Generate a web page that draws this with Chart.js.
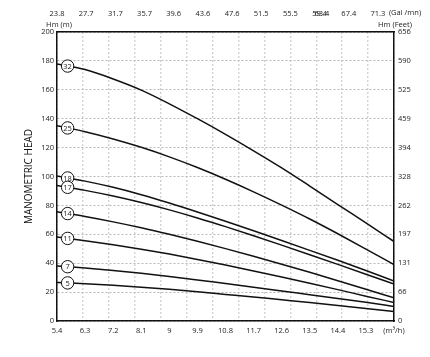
<!DOCTYPE html>
<html><head><meta charset="utf-8">
<script src="https://cdn.jsdelivr.net/npm/chart.js@4.4.1/dist/chart.umd.min.js"></script>
<style>html,body{margin:0;padding:0;background:#fff;}#wrap{width:430px;height:357px;}</style>
</head><body><div id="wrap"><canvas id="c" width="430" height="357"></canvas></div>
<script>
// ---- data ----
const flowM3h = [5.4, 6.3, 7.2, 8.1, 9.0, 9.9, 10.8, 11.7, 12.6, 13.5, 14.4, 15.3, 16.2];
const flowLabels = ["5.4","6.3","7.2","8.1","9","9.9","10.8","11.7","12.6","13.5","14.4","15.3","(m³/h)"];
const galLabels = ["23.8","27.7","31.7","35.7","39.6","43.6","47.6","51.5","55.5","59.4","63.4","67.4","71.3"];
const feetLabels = ["0","66","131","197","262","328","394","459","525","590","656"];
const stages = ["32","25","18","17","14","11","7","5"];
const head32 = [177.9,174.0,167.5,159.8,150.3,140.0,129.2,117.8,106.0,93.4,80.6,67.9,55.0];
const head25 = [135.2,131.0,126.0,120.2,113.6,106.2,98.1,89.4,80.2,70.6,60.4,49.8,39.0];
const head18 = [100.3,96.8,92.5,87.4,81.6,75.4,69.0,62.4,55.7,48.9,42.0,34.9,27.7];
const head17 = [93.8,90.4,86.5,82.0,76.9,71.3,65.3,59.0,52.5,45.9,39.2,32.4,25.5];
const head14 = [75.6,72.3,68.6,64.5,60.0,55.2,50.1,44.8,39.3,33.7,27.9,22.0,16.0];
const head11 = [58.1,55.6,52.8,49.7,46.3,42.6,38.7,34.6,30.4,26.1,21.7,17.2,12.8];
const head7  = [38.1,36.7,35.0,33.0,30.8,28.4,25.9,23.4,20.8,18.2,15.6,12.9,10.1];
const head5  = [26.7,25.8,24.7,23.4,21.9,20.2,18.4,16.6,14.7,12.8,10.8,8.7,6.5];
const series = [head32, head25, head18, head17, head14, head11, head7, head5];
const markerFlow = 5.74;

// ---- build ----
const FONT = '"Open Sans", "DejaVu Sans", sans-serif';
const TXT = '#222';
function interp(s, x) {
  for (let i = 0; i < flowM3h.length - 1; i++) {
    if (x >= flowM3h[i] && x <= flowM3h[i+1]) {
      return s[i] + (s[i+1]-s[i]) * (x - flowM3h[i]) / (flowM3h[i+1]-flowM3h[i]);
    }
  }
  return s[0];
}
const lineSets = series.map((s, k) => ({
  label: stages[k],
  data: s.map((v, i) => ({x: flowM3h[i], y: v})),
  borderColor: '#111', borderWidth: 1.5, pointRadius: 0,
  cubicInterpolationMode: 'monotone', fill: false, order: 1,
  xAxisID: 'x', yAxisID: 'y'
}));
const markerSet = {
  label: 'stages',
  data: series.map(s => ({x: markerFlow, y: interp(s, markerFlow)})),
  showLine: false, pointRadius: 6.2, pointBackgroundColor: '#fff',
  pointBorderColor: '#111', pointBorderWidth: 1, order: 0,
  xAxisID: 'x', yAxisID: 'y'
};

const stageText = {
  id: 'stageText',
  afterDatasetsDraw(chart) {
    const idx = chart.data.datasets.indexOf(markerSet);
    const meta = chart.getDatasetMeta(idx);
    const ctx = chart.ctx;
    ctx.save();
    ctx.fillStyle = TXT; ctx.font = '7.5px ' + FONT;
    ctx.textAlign = 'center'; ctx.textBaseline = 'middle';
    meta.data.forEach((p, i) => ctx.fillText(stages[i], p.x, p.y + 0.5));
    ctx.restore();
  }
};
const unitText = {
  id: 'unitText',
  afterDraw(chart) {
    const {ctx, chartArea: a} = chart;
    ctx.save();
    ctx.fillStyle = TXT; ctx.font = '7.5px ' + FONT;
    ctx.textAlign = 'center'; ctx.textBaseline = 'middle';
    ctx.fillText('Hm (m)', a.left + 2, a.top - 7);
    ctx.fillText('Hm (Feet)', a.right + 1, a.top - 7);
    ctx.fillText('(Gal /mn)', a.right + 11, 13);
    ctx.restore();
  }
};

const border = {display: true, color: '#111', width: 1.5};
new Chart(document.getElementById('c'), {
  type: 'line',
  data: {datasets: [markerSet, ...lineSets]},
  plugins: [stageText, unitText],
  options: {
    responsive: false, animation: false, devicePixelRatio: 1,
    layout: {padding: 0},
    plugins: {legend: {display: false}, tooltip: {enabled: false}},
    scales: {
      x: {
        type: 'linear', position: 'bottom', min: 5.4, max: 16.2,
        afterBuildTicks: s => { s.ticks = flowLabels.map((_, i) => ({value: 5.4 + i * 0.9})); },
        ticks: {autoSkip: false, maxRotation: 0, padding: 5, color: TXT, font: {size: 7.5, family: FONT},
          callback: (v, i) => flowLabels[i]},
        grid: {display: false, drawTicks: false},
        border: border,
        afterFit: s => { s.height = 36; }
      },
      xg: {
        type: 'linear', position: 'bottom', min: 0, max: 13,
        ticks: {display: false, stepSize: 1},
        grid: {color: '#d2d2d2', lineWidth: 1.4, drawTicks: false},
        border: {display: true, color: 'rgba(0,0,0,0)', dash: [2, 2]},
        afterFit: s => { s.height = 0; }
      },
      xt: {
        type: 'linear', position: 'top', min: 0, max: 11.55,
        afterBuildTicks: s => { s.ticks = [0,1,2,3,4,5,6,7,8,9,9.08,10,11].map(v => ({value: v})); },
        ticks: {autoSkip: false, maxRotation: 0, padding: 14, color: TXT, font: {size: 7.5, family: FONT},
          callback: (v, i) => galLabels[i]},
        grid: {display: false, drawTicks: false},
        border: border,
        afterFit: s => { s.height = 32; }
      },
      y: {
        type: 'linear', position: 'left', min: 0, max: 200,
        ticks: {stepSize: 20, padding: 3, color: TXT, font: {size: 7.5, family: FONT}},
        grid: {color: '#b8b8b8', lineWidth: 1, drawTicks: false},
        border: Object.assign({dash: [2, 2]}, border),
        title: {display: true, text: 'MANOMETRIC HEAD', color: '#111', font: {size: 10, family: FONT}, padding: {top: 23, bottom: 0}},
        afterFit: s => { s.width = 57; }
      },
      y2: {
        type: 'linear', position: 'right', min: 0, max: 200,
        afterBuildTicks: s => { s.ticks = feetLabels.map((_, i) => ({value: i * 20})); },
        ticks: {padding: 4, color: TXT, font: {size: 7.5, family: FONT}, callback: (v, i) => feetLabels[i]},
        grid: {display: false, drawTicks: false},
        border: border,
        afterFit: s => { s.width = 36; }
      }
    }
  }
});
</script>
</body></html>
